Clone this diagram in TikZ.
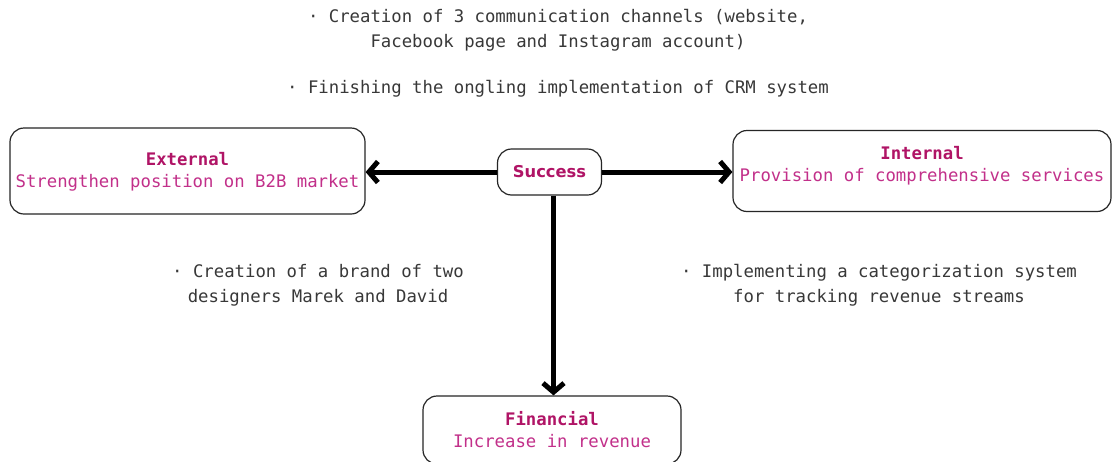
\documentclass[tikz,border=0pt]{standalone}
\usepackage{fontspec}
\setmonofont{DejaVu Sans Mono}
\newfontfamily\succfont{DejaVu Sans}
\usetikzlibrary{arrows.meta}
\definecolor{titlecol}{HTML}{B01466}
\definecolor{bodycol}{HTML}{C2308A}
\definecolor{notecol}{HTML}{383838}
\tikzset{
  box/.style={draw=black!85, line width=1.2pt, rounded corners=14pt, fill=white},
  boxtext/.style={align=center, font=\ttfamily\fontsize{17.3}{22}\selectfont, text=bodycol, inner sep=0pt},
  note/.style={align=center, font=\ttfamily\fontsize{17.3}{25}\selectfont, text=notecol, inner sep=0pt},
  link/.style={line width=5pt, -{Straight Barb[length=9pt,width=21pt]}},
}
\newcommand{\ttl}[1]{{\bfseries\color{titlecol}#1}}
\begin{document}
\begin{tikzpicture}[x=1pt,y=-1pt]
\useasboundingbox[fill=white] (0,0) rectangle (1113,461);

% perspective boxes
\node[box, minimum width=355pt, minimum height=86pt] (ext) at (187.5,171) {};
\node[boxtext] (extT) at (187.5,172) {\ttl{External}\\Strengthen position on B2B market};

\node[box, minimum width=104pt, minimum height=46pt] (suc) at (549.5,172)
  {\succfont\bfseries\fontsize{16.3}{18}\selectfont\textcolor{titlecol}{Success}};

\node[box, minimum width=378pt, minimum height=81pt] (int) at (922,171) {};
\node[boxtext] (intT) at (922,165.5) {\ttl{Internal}\\Provision of comprehensive services};

\node[box, minimum width=258pt, minimum height=68pt] (fin) at (552,430) {};
\node[boxtext] (finT) at (552,430) {\ttl{Financial}\\Increase in revenue};

% connectors
\coordinate (sucB) at ([xshift=4pt]suc.south);
\draw[link] (suc.west) -- (suc.west -| ext.east);
\draw[link] (suc.east) -- (suc.east -| int.west);
\draw[link] (sucB) -- (sucB |- fin.north);

% notes
\node[note] (n1) at (558,30) {· Creation of 3 communication channels (website,\\Facebook page and Instagram account)};
\node[note] (n2) at (558,89) {· Finishing the ongling implementation of CRM system};
\node[note] (n3) at (318,285) {· Creation of a brand of two\\designers Marek and David};
\node[note] (n4) at (879,285) {· Implementing a categorization system\\for tracking revenue streams};
\end{tikzpicture}
\end{document}
